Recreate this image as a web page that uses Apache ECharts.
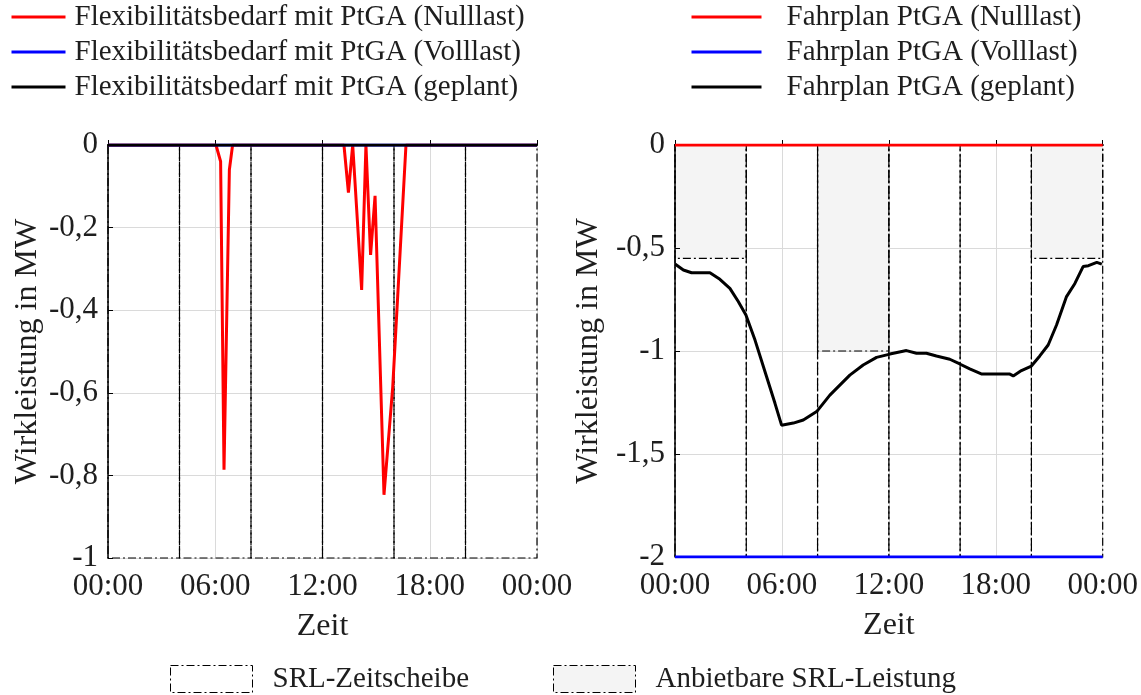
<!DOCTYPE html>
<html>
<head>
<meta charset="utf-8">
<script src="https://cdn.jsdelivr.net/npm/echarts@6/dist/echarts.min.js"></script>
<style>
  html, body { margin: 0; padding: 0; background: #fff; }
  #chart { width: 1141px; height: 695px; }
</style>
</head>
<body>
<div id="chart"></div>
<script>
// ---- data -------------------------------------------------------------
const xTickLabels = ['00:00', '06:00', '12:00', '18:00', '00:00'];

// SRL time slices (hours)
const zeitscheibeStart = [0, 4, 8, 12, 16, 20];
const zeitscheibeEnd   = [4, 8, 12, 16, 20, 24];

// offerable SRL power per slice (MW)
const srlStart    = [0, 8, 20];
const srlEnd      = [4, 12, 24];
const srlLeistung = [-0.55, -1, -0.55];

// flexibility demand with PtGA
const flexNullTime  = [0, 6.04, 6.30, 6.49, 6.79, 6.97, 13.20, 13.45, 13.69, 14.19, 14.43, 14.69, 14.94, 15.44, 15.93, 16.67, 24];
const flexNullValue = [0, 0, -0.04, -0.786, -0.06, 0, 0, -0.115, 0, -0.351, 0, -0.266, -0.123, -0.847, -0.585, 0, 0];
const flexVollTime  = [0, 24];
const flexVollValue = [0, 0];
const flexPlanTime  = [0, 24];
const flexPlanValue = [0, 0];

// PtGA schedule
const fahrNullTime  = [0, 24];
const fahrNullValue = [0, 0];
const fahrVollTime  = [0, 24];
const fahrVollValue = [-2, -2];
const fahrPlanTime  = [0, 0.47, 0.93, 1.96, 2.52, 3.08, 3.55, 3.98, 4.49, 5.14, 5.61, 5.98, 6.64, 7.2, 7.95, 8.69, 9.81, 10.56, 11.31, 12.06, 12.99, 13.55, 14.11, 14.67, 15.42, 15.98, 16.54, 17.22, 18.79, 18.98, 19.44, 20.0, 20.47, 20.94, 21.41, 21.97, 22.44, 22.9, 23.2, 23.67, 23.95];
const fahrPlanValue = [-0.578, -0.607, -0.62, -0.62, -0.652, -0.696, -0.76, -0.825, -0.947, -1.125, -1.254, -1.36, -1.35, -1.335, -1.294, -1.214, -1.117, -1.068, -1.031, -1.015, -0.998, -1.011, -1.011, -1.024, -1.04, -1.063, -1.087, -1.112, -1.112, -1.121, -1.095, -1.073, -1.024, -0.971, -0.874, -0.736, -0.672, -0.59, -0.586, -0.57, -0.578];

// ---- helpers ----------------------------------------------------------
const FONT = '"Liberation Serif", "Times New Roman", serif';
const TEXT = '#1e1e1e';
const DASH_DOT = [8, 3, 2, 3];
const FS_LEGEND = 29;
const FS_TICK = 31;
const FS_NAME = 32;

const zip = (t, v) => t.map((x, i) => [x, v[i]]);
const slices = (yMin) => zeitscheibeStart.map((s, i) => [s, zeitscheibeEnd[i], 0, yMin]);
const srlBlocks = srlStart.map((s, i) => [s, srlEnd[i], 0, srlLeistung[i]]);
const fmtNum = (v) => String(+v.toFixed(2)).replace('.', ',');

function rectRenderer(fill) {
  return function (params, api) {
    const a = api.coord([api.value(0), api.value(2)]);
    const b = api.coord([api.value(1), api.value(3)]);
    return {
      type: 'rect',
      shape: { x: a[0], y: a[1], width: b[0] - a[0], height: b[1] - a[1] },
      style: { fill: fill, stroke: '#000', lineWidth: 1.2, lineDash: DASH_DOT }
    };
  };
}

function xAxis(gridIndex) {
  return {
    type: 'value', gridIndex, min: 0, max: 24, interval: 6,
    name: 'Zeit', nameLocation: 'middle', nameGap: 53,
    nameTextStyle: { fontFamily: FONT, fontSize: FS_NAME, color: TEXT },
    axisLine: { lineStyle: { color: '#000', width: 2 } },
    axisTick: { inside: true, length: 5, lineStyle: { color: '#000' } },
    axisLabel: {
      fontFamily: FONT, fontSize: FS_TICK, color: TEXT, margin: 13,
      formatter: (v) => xTickLabels[Math.round(v / 6)]
    },
    splitLine: { show: true, lineStyle: { color: '#dadada', width: 1 } }
  };
}

function yAxis(gridIndex, min, interval, nameGap) {
  return {
    type: 'value', gridIndex, min, max: 0, interval,
    name: 'Wirkleistung in MW', nameLocation: 'middle', nameRotate: 90, nameGap,
    nameTextStyle: { fontFamily: FONT, fontSize: FS_NAME, color: TEXT },
    axisLine: { show: true, lineStyle: { color: '#000', width: 1.5 } },
    axisTick: { show: true, inside: true, length: 5, lineStyle: { color: '#000' } },
    axisLabel: { fontFamily: FONT, fontSize: FS_TICK, color: TEXT, margin: 10, formatter: fmtNum },
    splitLine: { show: true, lineStyle: { color: '#dadada', width: 1 } }
  };
}

function line(name, gridIndex, data, color) {
  return {
    name, type: 'line', xAxisIndex: gridIndex, yAxisIndex: gridIndex,
    data, symbol: 'none', showSymbol: false, z: 3,
    lineStyle: { color, width: 3 }, itemStyle: { color },
    emphasis: { disabled: true }
  };
}

const legendText = { fontFamily: FONT, fontSize: FS_LEGEND, color: TEXT, lineHeight: 30 };

const option = {
  animation: false,
  backgroundColor: '#fff',
  grid: [
    { left: 108, top: 145, width: 429, height: 413 },
    { left: 675, top: 145, width: 428, height: 412 }
  ],
  xAxis: [xAxis(0), xAxis(1)],
  yAxis: [yAxis(0, -1, 0.2, 64), yAxis(1, -2, 0.5, 70)],
  legend: [
    {
      orient: 'vertical', left: 10, top: 2, padding: 0, itemGap: 5,
      itemWidth: 54, itemHeight: 14,
      textStyle: Object.assign({}, legendText, { padding: [0, 0, 0, 4] }),
      itemStyle: { opacity: 0 }, lineStyle: { width: 3 },
      data: ['Flexibilitätsbedarf mit PtGA (Nulllast)', 'Flexibilitätsbedarf mit PtGA (Volllast)', 'Flexibilitätsbedarf mit PtGA (geplant)']
    },
    {
      orient: 'vertical', left: 690, top: 2, padding: 0, itemGap: 5,
      itemWidth: 70, itemHeight: 14,
      textStyle: Object.assign({}, legendText, { padding: [0, 0, 0, 20] }),
      itemStyle: { opacity: 0 }, lineStyle: { width: 3 },
      data: ['Fahrplan PtGA (Nulllast)', 'Fahrplan PtGA (Volllast)', 'Fahrplan PtGA (geplant)']
    },
    {
      orient: 'horizontal', left: 170, top: 664, padding: 0, itemGap: 84,
      itemWidth: 82, itemHeight: 27, textStyle: Object.assign({}, legendText, { padding: [0, 0, 0, 15] }),
      data: [
        { name: 'SRL-Zeitscheibe', icon: 'rect',
          itemStyle: { color: '#fff', borderColor: '#000', borderWidth: 1, borderType: DASH_DOT } },
        { name: 'Anbietbare SRL-Leistung', icon: 'rect',
          itemStyle: { color: '#f4f4f4', borderColor: '#000', borderWidth: 1, borderType: DASH_DOT } }
      ]
    }
  ],
  series: [
    // left panel: flexibility demand
    {
      name: 'SRL-Zeitscheibe', type: 'custom', xAxisIndex: 0, yAxisIndex: 0, z: 1,
      renderItem: rectRenderer('none'), encode: { x: [0, 1], y: [2, 3] },
      itemStyle: { color: '#fff', borderColor: '#000' }, data: slices(-1), silent: true
    },
    line('Flexibilitätsbedarf mit PtGA (Nulllast)', 0, zip(flexNullTime, flexNullValue), '#ff0000'),
    line('Flexibilitätsbedarf mit PtGA (Volllast)', 0, zip(flexVollTime, flexVollValue), '#0000ff'),
    line('Flexibilitätsbedarf mit PtGA (geplant)', 0, zip(flexPlanTime, flexPlanValue), '#000000'),

    // right panel: schedule
    {
      name: 'Anbietbare SRL-Leistung', type: 'custom', xAxisIndex: 1, yAxisIndex: 1, z: 0,
      renderItem: rectRenderer('#f4f4f4'), encode: { x: [0, 1], y: [2, 3] },
      itemStyle: { color: '#f4f4f4', borderColor: '#000' }, data: srlBlocks, silent: true
    },
    {
      name: 'SRL-Zeitscheibe', type: 'custom', xAxisIndex: 1, yAxisIndex: 1, z: 1,
      renderItem: rectRenderer('none'), encode: { x: [0, 1], y: [2, 3] },
      itemStyle: { color: '#fff', borderColor: '#000' }, data: slices(-2), silent: true
    },
    line('Fahrplan PtGA (geplant)', 1, zip(fahrPlanTime, fahrPlanValue), '#000000'),
    line('Fahrplan PtGA (Nulllast)', 1, zip(fahrNullTime, fahrNullValue), '#ff0000'),
    line('Fahrplan PtGA (Volllast)', 1, zip(fahrVollTime, fahrVollValue), '#0000ff')
  ]
};

const chart = echarts.init(document.getElementById('chart'), null, { renderer: 'canvas' });
chart.setOption(option);
</script>
</body>
</html>
